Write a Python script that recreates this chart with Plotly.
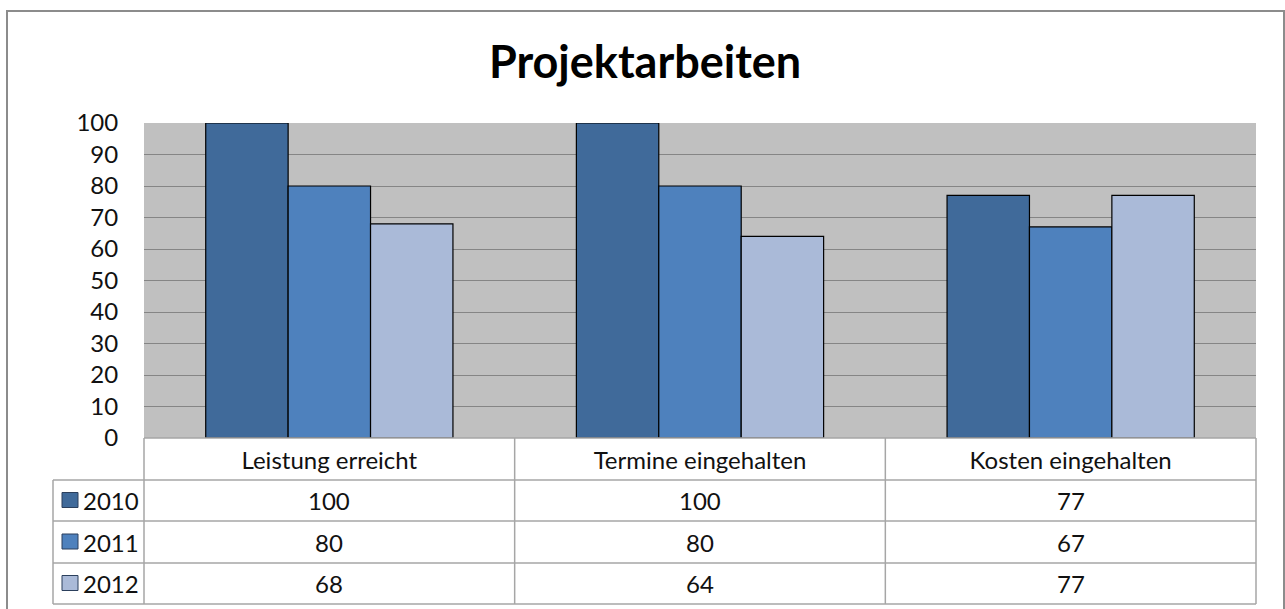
import plotly.graph_objects as go

title = "Projektarbeiten"
categories = ["Leistung erreicht", "Termine eingehalten", "Kosten eingehalten"]
years = ["2010", "2011", "2012"]
values_2010 = [100, 100, 77]
values_2011 = [80, 80, 67]
values_2012 = [68, 64, 77]
y_ticks = [0, 10, 20, 30, 40, 50, 60, 70, 80, 90, 100]

series = [values_2010, values_2011, values_2012]
colors = ["#406A9A", "#4E81BD", "#AABAD8"]

FONT = "Lato"
TXT = "#111111"
FS = 24
W, H = 1285, 609
ML, MR, MT, MB = 144, 29, 123, 171
PW, PH = W - ML - MR, H - MT - MB


def px_to_py(p):
    return (H - MB - p) / PH


def px_to_px(x):
    return (x - ML) / PW


fig = go.Figure()
for yr, vals, col in zip(years, series, colors):
    fig.add_trace(go.Bar(
        x=categories, y=vals, name=yr,
        marker=dict(color=col, line=dict(color="#000000", width=1.2)),
        showlegend=False,
    ))

shapes = []
annotations = []
line_col = "#A6A6A6"

# Outer chart frame
shapes.append(dict(type="rect", xref="paper", yref="paper",
                   x0=px_to_px(7), x1=px_to_px(1284), y0=px_to_py(640), y1=px_to_py(11),
                   line=dict(color="#8C8C8C", width=2), fillcolor="rgba(0,0,0,0)", layer="above"))

# Data table
row_edges = [438, 480, 521, 563, 604]
left_x = px_to_px(53)
shapes.append(dict(type="line", xref="paper", yref="paper", x0=0, x1=1,
                   y0=px_to_py(row_edges[0]), y1=px_to_py(row_edges[0]),
                   line=dict(color=line_col, width=1.5)))
for e in row_edges[1:]:
    shapes.append(dict(type="line", xref="paper", yref="paper", x0=left_x, x1=1,
                       y0=px_to_py(e), y1=px_to_py(e), line=dict(color=line_col, width=1.5)))
for xv in [0, 1 / 3, 2 / 3, 1]:
    shapes.append(dict(type="line", xref="paper", yref="paper", x0=xv, x1=xv,
                       y0=px_to_py(row_edges[0]), y1=px_to_py(row_edges[-1]),
                       line=dict(color=line_col, width=1.5)))
shapes.append(dict(type="line", xref="paper", yref="paper", x0=left_x, x1=left_x,
                   y0=px_to_py(row_edges[1]), y1=px_to_py(row_edges[-1]),
                   line=dict(color=line_col, width=1.5)))

for i, (yr, vals, col) in enumerate(zip(years, series, colors)):
    top, bot = row_edges[i + 1], row_edges[i + 2]
    cy = (top + bot) / 2
    shapes.append(dict(type="rect", xref="paper", yref="paper",
                       x0=px_to_px(62), x1=px_to_px(78),
                       y0=px_to_py(cy + 7), y1=px_to_py(cy - 8),
                       fillcolor=col, line=dict(color="#2B3F5C", width=1)))
    annotations.append(dict(xref="paper", yref="paper", x=px_to_px(81), y=px_to_py(cy),
                            xanchor="left", yanchor="middle", text=yr, showarrow=False,
                            font=dict(family=FONT, size=FS, color=TXT)))
    for c, v in zip(categories, vals):
        annotations.append(dict(xref="x", yref="paper", x=c, y=px_to_py(cy),
                                xanchor="center", yanchor="middle", text=str(v), showarrow=False,
                                font=dict(family=FONT, size=FS, color=TXT)))

fig.update_layout(
    width=W, height=H,
    margin=dict(l=ML, r=MR, t=MT, b=MB),
    paper_bgcolor="#FFFFFF",
    plot_bgcolor="#C0C0C0",
    barmode="group",
    bargap=0.333,
    bargroupgap=0,
    title=dict(text="<b>" + title + "</b>", x=0.502, xanchor="center", xref="container",
               y=1 - 62 / H, yanchor="middle",
               font=dict(family=FONT, size=45, color="#000000")),
    font=dict(family=FONT, size=FS, color=TXT),
    shapes=shapes,
    annotations=annotations,
)
fig.update_xaxes(showgrid=False, zeroline=False, showline=False, ticks="outside", ticklen=0,
                 tickfont=dict(family=FONT, size=FS, color=TXT), ticklabelstandoff=1)
fig.update_yaxes(range=[0, 100], tickvals=y_ticks, showgrid=True, gridcolor="#858585", gridwidth=1.3,
                 zeroline=False, showline=False, ticks="outside", ticklen=0, ticklabelstandoff=20,
                 tickfont=dict(family=FONT, size=FS, color=TXT))

fig.write_html("out.html", post_script="document.body.style.margin='0px';",
               config={"displayModeBar": False})
